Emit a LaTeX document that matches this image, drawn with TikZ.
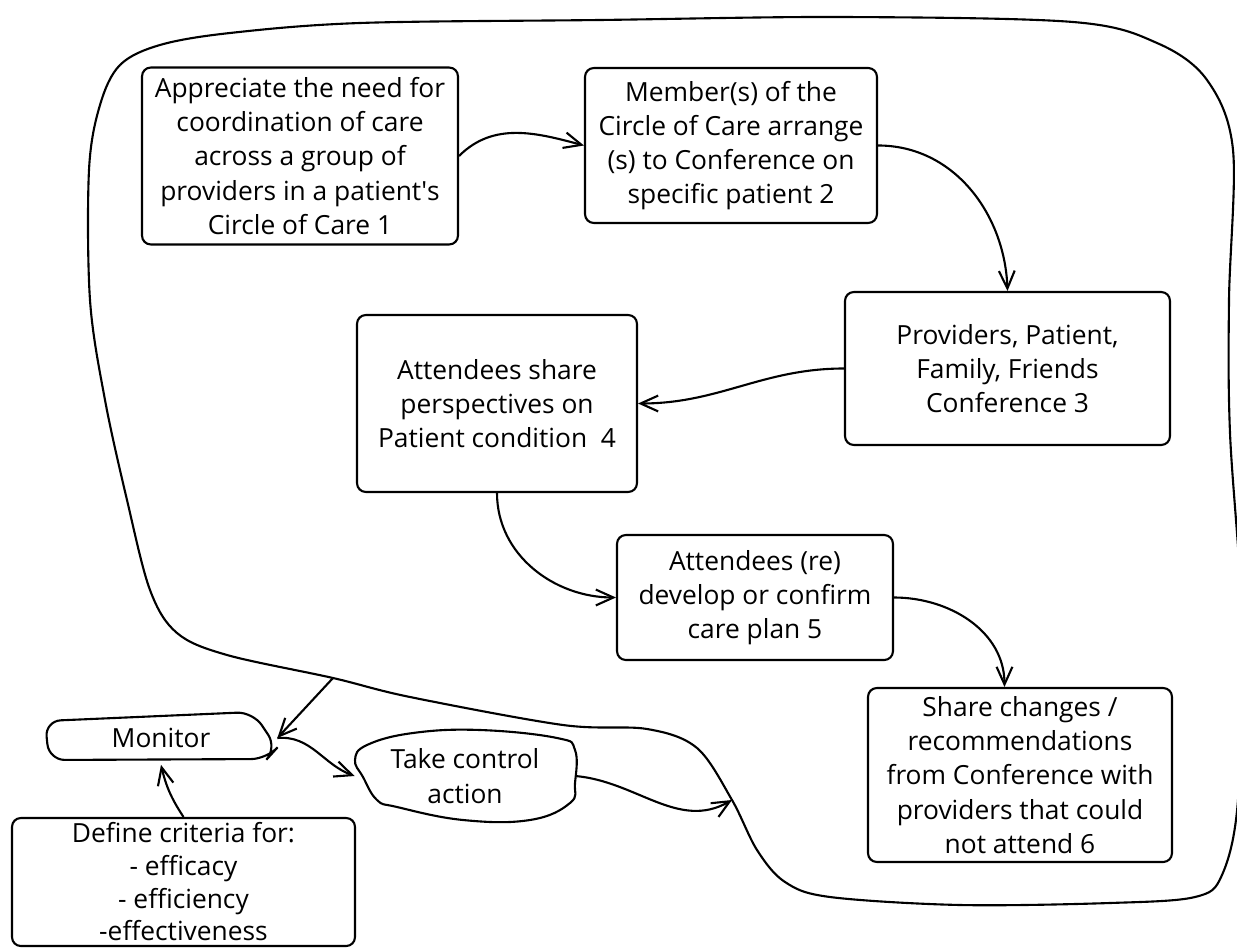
\documentclass[tikz,border=0pt]{standalone}
\usepackage{fontspec}
\setmainfont{Open Sans}
\usetikzlibrary{arrows.meta}

\begin{document}
\begin{tikzpicture}[x=0.02cm, y=0.02cm,
    every node/.style={font=\fontsize{15}{19.5}\selectfont},
    box/.style={draw, line width=1.2pt, rounded corners=5pt, align=center, inner sep=0pt},
    flow/.style={line width=1.2pt, -{Straight Barb[length=10pt,width=9pt]}}]
  \useasboundingbox (0,0) rectangle (1237,-949);

  % the loop round the whole conference cycle
  \coordinate (tap) at (333,-678);
  \coordinate (hit) at (732,-800);
  \draw[line width=1.2pt] plot[smooth cycle, tension=0.55] coordinates {
    (tap) (410,-697) (563,-725) (647,-729) (697,-748) (hit) (757,-850) (785,-882)
    (830,-897) (960,-905) (1110,-903) (1195,-897) (1222,-875) (1238,-800) (1242,-620)
    (1230,-433) (1229,-300) (1233,-150) (1207,-80) (1157,-43) (1073,-22) (840,-17)
    (600,-20) (360,-23) (230,-33) (160,-45) (120,-65) (100,-105) (89,-170) (90,-300)
    (105,-400) (127,-500) (150,-590) (177,-633) (227,-655)};

  % process boxes
  \node[box, minimum width=6.32cm, minimum height=3.54cm] (need) at (300,-156)
    {Appreciate the need for\\coordination of care\\across a group of\\providers in a patient\textquotesingle s\\Circle of Care 1};
  \node[box, minimum width=5.84cm, minimum height=3.1cm] (arrange) at (731,-145.5)
    {Member(s) of the\\Circle of Care arrange\\(s) to Conference on\\specific patient 2};
  \node[box, minimum width=6.5cm, minimum height=3.06cm] (meet) at (1007.5,-368.5)
    {Providers, Patient,\\Family, Friends\\Conference 3};
  \node[box, minimum width=5.6cm, minimum height=3.54cm] (views) at (497,-403.5)
    {Attendees share\\perspectives on\\Patient condition\ \ 4};
  \node[box, minimum width=5.52cm, minimum height=2.5cm] (plan) at (755,-597.5)
    {Attendees (re)\\develop or confirm\\care plan 5};
  \node[box, minimum width=6.08cm, minimum height=3.48cm] (inform) at (1020,-775)
    {Share changes /\\recommendations\\from Conference with\\providers that could\\not attend 6};
  \node[box, minimum width=6.86cm, minimum height=2.56cm, font=\fontsize{15}{18.6}\selectfont] (criteria) at (183.5,-882)
    {Define criteria for:\\- efficacy\\- efficiency\\-effectiveness};

  % control blobs
  \node[minimum width=4.64cm, minimum height=1.06cm, inner sep=0pt] (monitor) at (161,-738) {Monitor};
  \draw[line width=1.2pt, rounded corners=9pt, shift={(monitor.center)}]
    (-116,17) -- (92,26) -- (116,-10) -- (106,-21) -- (-112,-22) -- cycle;
  \node[minimum width=4.4cm, minimum height=1.8cm, inner sep=0pt, align=center] (action) at (465,-776)
    {Take control\\action};
  \draw[line width=1.2pt, shift={(action.center)}] plot[smooth cycle, tension=0.7] coordinates {
    (-110,16) (-98,31) (-52,43) (15,46) (92,38) (110,26) (110,-7) (105,-27)
    (65,-44) (-2,-44) (-68,-31) (-88,-24) (-102,-1)};

  % connectors
  \draw[flow] (need.east) to[out=45, in=165] (arrange.west);
  \draw[flow] (arrange.east) to[out=0, in=92] (meet.north);
  \draw[flow] (meet.west) to[out=180, in=0] (views.east);
  \draw[flow] (views.south) to[out=-90, in=180] (plan.west);
  \draw[flow] (plan.east) to[out=0, in=90] (inform.100);
  \draw[flow] (tap) -- (monitor.east);
  \draw[flow] (monitor.east) to[out=5, in=160] (action.west);
  \draw[flow] (action.east) to[out=-5, in=210] (hit);
  \draw[flow] (criteria.north) to[bend left=10] (monitor.south);
\end{tikzpicture}
\end{document}
